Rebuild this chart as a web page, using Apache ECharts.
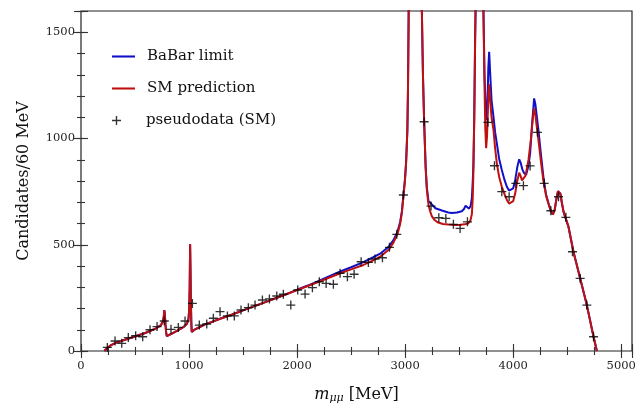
<!DOCTYPE html>
<html><head><meta charset="utf-8">
<script src="https://cdn.jsdelivr.net/npm/echarts/dist/echarts.min.js"></script>
<style>html,body{margin:0;padding:0;background:#fff}#c{width:642px;height:409px}</style>
</head><body><div id="c"></div>
<script>
// SM prediction curve (MeV, candidates / 60 MeV)
const smMass = [216,240,270,320,400,500,600,700,740,758,766,771,776,782,788,794,810,850,900,950,980,995,1002,1006,1010,1013,1017,1021,1025,1035,1056,1100,1148,1200,1300,1400,1500,1600,1700,1800,1900,2000,2100,2200,2300,2400,2500,2614,2700,2769,2850,2892,2930,2954,2970,2984,2998,3009,3021,3027,3033,3097,3155,3165,3176,3190,3201,3216,3230,3247,3270,3300,3350,3400,3450,3500,3550,3586,3605,3618,3626,3632,3640,3648,3652,3690,3725,3733,3742,3750,3758,3766,3772,3778,3786,3800,3818,3833,3849,3870,3895,3920,3942,3962,3979,4000,4019,4040,4056,4070,4082,4095,4115,4142,4165,4180,4194,4206,4220,4234,4255,4281,4305,4327,4348,4368,4385,4400,4415,4425,4437,4450,4466,4481,4512,4558,4620,4682,4744,4775];
const smCounts = [0,13,25,38,52,68,86,108,122,138,160,192,172,125,88,70,73,84,98,113,128,150,200,300,502,400,240,135,90,92,102,113,125,135,154,172,191,210,229,248,267,287,306,326,346,366,384,405,425,444,478,510,552,598,650,726,800,883,1040,1250,1600,2500,1600,1300,1079,860,760,690,660,635,618,606,598,595,593,593,596,601,615,645,720,844,1100,1471,1600,2500,1600,1300,1050,954,1010,1130,1220,1255,1190,1100,1040,955,883,820,773,738,711,694,687,705,742,805,839,822,803,797,825,899,1000,1085,1142,1110,1050,993,900,797,730,693,660,643,665,715,752,760,740,700,656,632,585,467,342,216,67,0];

// BaBar limit curve
const babarMass = [216,240,270,320,400,500,600,700,740,758,766,771,776,782,788,794,810,850,900,950,980,995,1002,1006,1010,1013,1017,1021,1025,1035,1056,1100,1148,1200,1300,1400,1500,1600,1700,1800,1900,2000,2100,2200,2300,2400,2500,2614,2700,2769,2850,2892,2930,2954,2970,2984,2998,3009,3021,3027,3033,3097,3155,3165,3176,3190,3201,3216,3247,3280,3340,3400,3432,3480,3525,3545,3560,3572,3590,3606,3618,3626,3632,3640,3648,3652,3690,3725,3735,3746,3756,3764,3770,3778,3786,3800,3818,3833,3849,3870,3895,3920,3942,3962,3979,4000,4019,4040,4056,4070,4085,4100,4120,4140,4157,4175,4194,4206,4220,4234,4255,4281,4305,4327,4348,4368,4385,4400,4415,4425,4437,4450,4466,4481,4512,4558,4620,4682,4744,4775];
const babarCounts = [0,13,25,38,52,68,86,108,122,138,160,192,172,125,88,70,73,84,98,113,128,150,200,300,502,400,240,135,90,92,102,113,125,135,154,172,191,210,229,248,267,288,308,330,352,374,394,418,440,458,492,522,562,607,657,732,805,888,1044,1250,1600,2500,1600,1300,1083,868,770,706,690,672,661,652,649,652,658,668,684,676,670,682,720,800,880,1100,1471,1600,2500,1600,1300,1140,1087,1200,1330,1408,1320,1180,1102,1030,977,905,852,805,773,755,747,765,805,870,902,885,855,838,830,868,930,1065,1189,1160,1100,1040,935,815,735,695,660,643,665,715,752,760,740,700,656,632,585,467,342,216,67,0];

// pseudodata (SM)
const dataMass = [244,315,377,438,506,571,639,704,771,833,901,963,1031,1095,1164,1225,1287,1355,1419,1481,1549,1611,1679,1744,1812,1873,1942,2006,2074,2142,2206,2269,2336,2398,2466,2528,2593,2660,2722,2790,2855,2923,2984,3176,3240,3312,3377,3447,3509,3577,3766,3827,3895,3963,4025,4095,4157,4225,4287,4349,4420,4488,4549,4620,4682,4744];
const dataCounts = [17,47,36,63,72,67,100,115,141,102,111,141,224,122,127,154,185,165,165,193,204,216,240,245,259,267,216,287,268,298,326,318,314,366,350,361,420,417,433,439,488,549,734,1079,682,627,624,596,577,608,1076,872,750,726,789,778,871,1029,789,660,726,629,467,342,216,67];

const xTickLabels = [0,1000,2000,3000,4000,5000];
const yTickLabels = [0,500,1000,1500];

const FONT = 'DejaVu Serif';
const TICK = '#333';
const zip = (a, b) => a.map((v, i) => [v, b[i]]);

function xAx(pos, interval, len, labels) {
  const o = {
    type: 'value', min: 0, max: 5100, interval: interval, position: pos,
    axisLine: { show: false }, splitLine: { show: false },
    axisTick: { inside: true, length: len, lineStyle: { color: TICK, width: 1.1 } },
    axisLabel: { show: false }
  };
  if (labels) {
    o.axisLabel = { show: true, margin: 9, fontFamily: FONT, fontSize: 11.5, color: '#222',
      formatter: v => xTickLabels.indexOf(v) >= 0 ? String(v) : '' };
    o.name = '{it|m}{sub|μμ}{n| [MeV]}';
    o.nameLocation = 'middle';
    o.nameGap = 34;
    o.nameTextStyle = { fontFamily: FONT, fontSize: 16, color: '#111',
      rich: { it: { fontFamily: FONT, fontStyle: 'italic', fontSize: 16, color: '#111' },
              sub: { fontFamily: FONT, fontStyle: 'italic', fontSize: 11, color: '#111', padding: [8, 0, 0, 0] },
              n: { fontFamily: FONT, fontSize: 16, color: '#111' } } };
  }
  return o;
}
function yAx(pos, interval, len, labels) {
  const o = {
    type: 'value', min: 0, max: 1600, interval: interval, position: pos,
    axisLine: { show: false }, splitLine: { show: false },
    axisTick: { inside: true, length: len, lineStyle: { color: TICK, width: 1.1 } },
    axisLabel: { show: false }
  };
  if (labels) {
    o.axisLabel = { show: true, margin: 6, fontFamily: FONT, fontSize: 11.5, color: '#222',
      formatter: v => yTickLabels.indexOf(v) >= 0 ? String(v) : '' };
    o.name = 'Candidates/60 MeV';
    o.nameLocation = 'middle';
    o.nameGap = 49;
    o.nameTextStyle = { fontFamily: FONT, fontSize: 16, color: '#111' };
  }
  return o;
}

const plusPath = 'path://M0,4.25H10V5.75H0Z M4.25,0H5.75V10H4.25Z M3.2,5L5,3.2L6.8,5L5,6.8Z';
const lineIcon = 'path://M0,0H100V9H0Z';

const chart = echarts.init(document.getElementById('c'), null, { renderer: 'canvas' });
chart.setOption({
  animation: false,
  backgroundColor: '#fff',
  grid: { left: 81, right: 10, top: 11, bottom: 58, show: true, borderColor: '#222', borderWidth: 1.2, backgroundColor: 'transparent' },
  xAxis: [xAx('bottom', 1000, 7, true), xAx('bottom', 250, 4, false), xAx('top', 1000, 7, false), xAx('top', 250, 4, false)],
  yAxis: [yAx('left', 500, 7, true), yAx('left', 100, 4, false), yAx('right', 500, 7, false), yAx('right', 100, 4, false)],
  legend: [
    { orient: 'vertical', left: 112, top: 49, padding: 0, itemWidth: 23, itemHeight: 12, itemGap: 17,
      data: [{ name: 'BaBar limit', icon: lineIcon }, { name: 'SM prediction', icon: lineIcon }],
      textStyle: { fontFamily: FONT, fontSize: 15, color: '#111', padding: [0, 0, 0, 7] } },
    { orient: 'vertical', left: 112, top: 113, padding: 0, itemWidth: 9, itemHeight: 9,
      data: [{ name: 'pseudodata (SM)', icon: plusPath }],
      textStyle: { fontFamily: FONT, fontSize: 15, color: '#111', padding: [0, 0, 0, 20] } }
  ],
  series: [
    { name: 'BaBar limit', type: 'line', data: zip(babarMass, babarCounts), showSymbol: false, symbol: 'none',
      clip: true, lineStyle: { color: '#1010c8', width: 2 }, itemStyle: { color: '#1010c8' }, z: 2 },
    { name: 'SM prediction', type: 'line', data: zip(smMass, smCounts), showSymbol: false, symbol: 'none',
      clip: true, lineStyle: { color: '#c01010', width: 2 }, itemStyle: { color: '#c01010' }, z: 3 },
    { name: 'pseudodata (SM)', type: 'scatter', data: zip(dataMass, dataCounts), symbol: plusPath, symbolSize: 9,
      itemStyle: { color: '#000' }, z: 4 }
  ]
});
</script>
</body></html>
